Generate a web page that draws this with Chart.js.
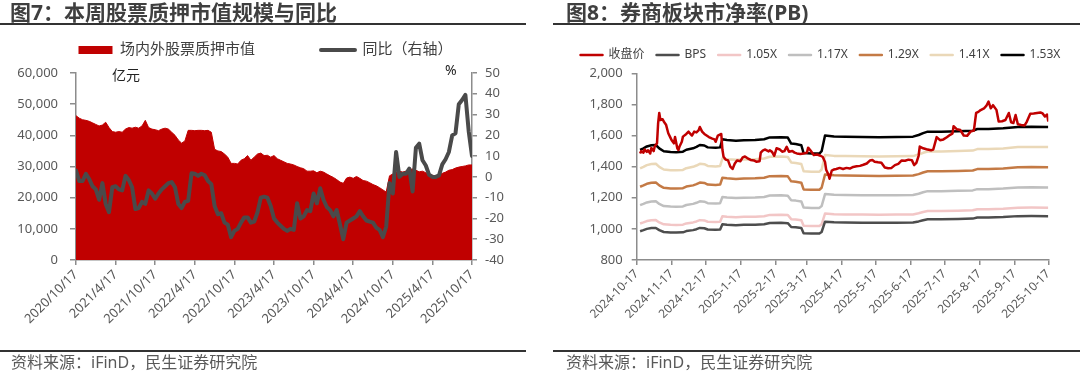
<!DOCTYPE html>
<html>
<head>
<meta charset="utf-8">
<script src="https://cdn.jsdelivr.net/npm/chart.js@4.4.1/dist/chart.umd.min.js"></script>
<style>
html,body{margin:0;padding:0;background:#fff;}
body{width:1080px;height:373px;position:relative;overflow:hidden;font-family:'Noto Sans','Noto Sans CJK SC',sans-serif;}
.box{position:absolute;top:0;width:540px;height:373px;}
.box canvas{position:absolute;left:0;top:0;}
.title{position:absolute;top:0;font-size:21px;font-weight:bold;color:#3f3f3f;line-height:24px;white-space:nowrap;}
.rule{position:absolute;height:2px;background:#333;}
.foot{position:absolute;top:353px;font-size:16px;color:#595959;line-height:18px;white-space:nowrap;}
.unit{position:absolute;font-size:14px;color:#222;line-height:16px;white-space:nowrap;}
</style>
</head>
<body>
<div class="box" style="left:0"><canvas id="c1" width="540" height="373"></canvas></div>
<div class="box" style="left:540px"><canvas id="c2" width="540" height="373"></canvas></div>

<div class="title" style="left:10px">图7：本周股票质押市值规模与同比</div>
<div class="rule" style="left:0;width:526px;top:22.5px"></div>
<div class="title" style="left:566px">图8：券商板块市净率(PB)</div>
<div class="rule" style="left:553px;width:527px;top:22.5px"></div>

<div class="unit" style="left:112px;top:67px">亿元</div>
<div class="unit" style="left:445px;top:62px">%</div>

<div class="rule" style="left:0;width:526px;top:350px"></div>
<div class="rule" style="left:553px;width:527px;top:350px"></div>
<div class="foot" style="left:11px">资料来源：iFinD，民生证券研究院</div>
<div class="foot" style="left:566px">资料来源：iFinD，民生证券研究院</div>

<script>
// ---------------- Figure 7 data (half-month steps from 2020/10/17) ----------------
const leftTickLabels = ['2020/10/17','2021/4/17','2021/10/17','2022/4/17','2022/10/17','2023/4/17','2023/10/17','2024/4/17','2024/10/17','2025/4/17','2025/10/17'];
const leftSeriesNames = ['场内外股票质押市值','同比（右轴）'];
const pledgeValue = [
46300,45500,45000,44800,44500,44000,43500,43000,43300,44200,
42500,41200,41000,41200,41000,42000,42500,42300,42600,42300,
43000,44800,42500,42000,41800,41500,42000,42300,42000,41000,
40000,38500,37500,38200,41600,41600,41500,41600,41600,41500,
41600,41000,35500,35000,34800,34000,33000,31000,31000,30800,
32000,32500,33500,32000,33000,34000,34300,33500,33600,33000,
33500,32500,32000,31500,31000,30800,30500,30000,29600,29300,
28500,28500,28600,28000,28500,28200,27600,27000,26500,25800,
25000,24600,26300,26600,26200,26800,26200,25500,25300,24800,
24200,23800,23200,22500,21800,27000,27600,28200,28500,28200,
28500,29000,29200,28800,28300,28500,28000,27500,27200,27000,
27300,27800,28200,28800,29000,29500,29800,30000,30200,30500,
30500];
const pledgeYoY = [
3,-2,-2,1.5,-1,-4.5,-6,-11,-3,-13,
-17,-5,-4.5,-6,-6.5,0.5,-1.5,-5,-15.5,-15,
-12,-13,-6.5,-8,-10.5,-8,-6,-4.5,-3,-2.5,
-5,-13,-15,-12,-11.5,1.7,1.5,0.5,1.5,0.8,
-2,-3.5,-14,-18,-17.5,-22,-23,-29,-26,-25,
-22,-19.5,-19.5,-22,-21.5,-17,-10,-9.5,-10,-14,
-20,-22,-23.5,-25,-26,-25,-25.5,-12.7,-20,-19,
-16,-16.5,-8,-12.7,-5.5,-11,-14.5,-16,-19,-16,
-23,-30,-22,-21,-20,-19,-16.5,-19,-21,-21.5,
-22,-24.5,-25.5,-29,-24,-3,-8,12,0,1.5,
1.5,4,-7,14,16,8,5.5,1,0,0,
0.7,6,8.5,12,20,21,35,37,39.5,22,
10];

// ---------------- Figure 8 data (days since 2024-10-17) ----------------
const rightTickLabels = ['2024-10-17','2024-11-17','2024-12-17','2025-1-17','2025-2-17','2025-3-17','2025-4-17','2025-5-17','2025-6-17','2025-7-17','2025-8-17','2025-9-17','2025-10-17'];
const rightSeriesNames = ['收盘价','BPS','1.05X','1.17X','1.29X','1.41X','1.53X'];
const pbMultiples = [1.05,1.17,1.29,1.41,1.53];
const closeDays = [3,4,6,7,9,10,12,13,15,16,18,19,20,21,23,24,26,28,30,31,33,34,36,37,38,40,41,44,46,47,49,51,53,55,56,58,60,62,64,67,69,70,72,75,76,77,79,81,83,85,87,89,92,94,96,98,101,104,106,109,110,112,114,117,118,120,122,124,127,129,131,133,135,138,140,142,145,148,151,152,154,157,160,163,165,167,168,170,171,173,175,177,180,183,186,189,192,195,198,201,204,207,209,211,214,217,220,223,226,229,232,235,238,241,244,246,248,250,251,254,257,261,263,266,269,272,275,278,280,281,284,287,290,293,296,299,301,303,305,308,310,312,314,316,319,321,324,327,330,332,334,336,338,341,344,346,349,352,355,358,360,362,364,365];
const closeValues = [1485,1500,1490,1510,1495,1505,1485,1520,1500,1530,1550,1680,1745,1700,1705,1690,1670,1615,1585,1570,1550,1590,1518,1507,1530,1560,1593,1610,1625,1615,1600,1625,1620,1635,1655,1625,1610,1600,1590,1580,1575,1560,1600,1610,1510,1464,1445,1440,1400,1385,1420,1440,1435,1460,1465,1455,1443,1440,1432,1435,1490,1505,1510,1498,1505,1495,1470,1518,1510,1496,1500,1528,1496,1500,1490,1485,1482,1485,1490,1522,1505,1475,1478,1470,1462,1430,1380,1350,1322,1375,1382,1385,1392,1385,1392,1388,1398,1402,1405,1412,1420,1440,1443,1432,1428,1425,1395,1390,1392,1410,1418,1440,1438,1445,1442,1410,1425,1470,1529,1518,1512,1505,1510,1590,1570,1575,1589,1605,1612,1660,1640,1635,1600,1598,1625,1632,1745,1752,1764,1775,1790,1818,1775,1795,1765,1690,1692,1700,1745,1685,1680,1732,1672,1668,1665,1690,1740,1742,1745,1748,1742,1722,1735,1690];
const bpsDays = [3,6,9,13,17,20,24,30,35,41,44,50,53,56,60,63,70,74,76,80,88,95,105,113,118,128,134,137,141,146,148,155,162,164,167,175,185,200,215,230,245,250,254,258,270,285,298,302,312,325,338,350,365];
const bpsValues = [985,992,1000,1005,1006,992,980,977,976,978,986,992,998,1006,1004,996,994,996,1030,1027,1024,1026,1027,1030,1038,1039,1037,1012,1010,1005,972,970,970,980,1046,1042,1041,1040,1039,1040,1041,1048,1056,1062,1062,1064,1066,1073,1073,1076,1082,1083,1082];

// ---------------- common ----------------
Chart.defaults.font.family = "'Noto Sans','Noto Sans CJK SC',sans-serif";
Chart.defaults.animation = false;
const axisGray = '#8c8c8c';
const labelGray = '#595959';
const fmt = v => Number(v).toLocaleString('en-US');

// ---------------- Figure 7 ----------------
const pledgePts = pledgeValue.map((v, i) => ({x: i * 0.5, y: v}));
const yoyPts = pledgeYoY.map((v, i) => ({x: i * 0.5, y: v}));

new Chart(document.getElementById('c1'), {
  type: 'line',
  data: {
    datasets: [
      {label: leftSeriesNames[1], data: yoyPts, yAxisID: 'y1', borderColor: '#4a4a4a', backgroundColor: '#4a4a4a',
       borderWidth: 4, pointRadius: 0, tension: 0, fill: false, borderJoinStyle: 'round', borderCapStyle: 'round'},
      {label: leftSeriesNames[0], data: pledgePts, yAxisID: 'y', borderColor: '#C00000', backgroundColor: '#C00000',
       borderWidth: 1, pointRadius: 0, tension: 0, fill: 'origin'}
    ]
  },
  options: {
    responsive: false,
    layout: {padding: {top: -23.5, left: -9, right: 0, bottom: 0}},
    plugins: {
      tooltip: {enabled: false},
      subtitle: {display: true, text: '', weight: 500, font: {size: 1, lineHeight: 1}, padding: {top: 0, bottom: 4.5}},
      legend: {
        display: true,
        labels: {
          font: {size: 15}, color: '#404040', boxWidth: 34, boxHeight: 0, padding: 66,
          generateLabels: () => [
            {text: leftSeriesNames[0], fillStyle: '#C00000', strokeStyle: '#C00000', lineWidth: 8, lineJoin: 'miter', fontColor: '#404040', hidden: false, datasetIndex: 1},
            {text: leftSeriesNames[1], fillStyle: '#4a4a4a', strokeStyle: '#4a4a4a', lineWidth: 4, lineJoin: 'round', fontColor: '#404040', hidden: false, datasetIndex: 0}
          ]
        }
      }
    },
    scales: {
      x: {
        type: 'linear', min: 0, max: 60,
        afterBuildTicks: s => { s.ticks = leftTickLabels.map((_, i) => ({value: i * 6})); },
        ticks: {autoSkip: false, minRotation: 45, maxRotation: 45, font: {size: 13}, color: labelGray, padding: 2,
                callback: (v, i) => leftTickLabels[i]},
        grid: {drawOnChartArea: false, drawTicks: true, tickLength: 5, color: axisGray, lineWidth: 1.5},
        border: {display: true, color: axisGray, width: 1.5},
        afterFit: s => { s.height = 113; }
      },
      y: {
        position: 'left', min: 0, max: 60000,
        ticks: {stepSize: 10000, font: {size: 13}, color: labelGray, padding: 12, callback: v => fmt(v)},
        grid: {drawOnChartArea: false, drawTicks: true, tickLength: 6, color: axisGray, lineWidth: 1.5},
        border: {display: true, color: axisGray, width: 1.5},
        afterFit: s => { s.width = 85; }
      },
      y1: {
        position: 'right', min: -40, max: 50,
        ticks: {stepSize: 10, font: {size: 13}, color: labelGray, padding: 8, callback: v => fmt(v)},
        grid: {drawOnChartArea: false, drawTicks: true, tickLength: 5, color: axisGray, lineWidth: 1.5},
        border: {display: true, color: axisGray, width: 1.5},
        afterFit: s => { s.width = 68; }
      }
    }
  }
});

// ---------------- Figure 8 ----------------
const dayOf = s => { const p = s.split('-').map(Number); return Date.UTC(p[0], p[1] - 1, p[2]); };
const day0 = dayOf(rightTickLabels[0]);
const rightTickDays = rightTickLabels.map(s => Math.round((dayOf(s) - day0) / 86400000));

const closePts = closeDays.map((d, i) => ({x: d, y: closeValues[i]}));
const bpsPts = bpsDays.map((d, i) => ({x: d, y: bpsValues[i]}));
const bandColors = ['#F2C6C6', '#BFBFBF', '#C47A45', '#EAD8B8', '#000000'];

const rightDatasets = [
  {label: rightSeriesNames[0], data: closePts, borderColor: '#C00000', backgroundColor: '#C00000'},
  {label: rightSeriesNames[1], data: bpsPts, borderColor: '#4d4d4d', backgroundColor: '#4d4d4d'}
].concat(pbMultiples.map((k, j) => ({
  label: rightSeriesNames[j + 2],
  data: bpsDays.map((d, i) => ({x: d, y: bpsValues[i] * k})),
  borderColor: bandColors[j], backgroundColor: bandColors[j]
}))).map(ds => Object.assign(ds, {borderWidth: 2.5, pointRadius: 0, tension: 0, fill: false, borderJoinStyle: 'round'}));

new Chart(document.getElementById('c2'), {
  type: 'line',
  data: {datasets: rightDatasets},
  options: {
    responsive: false,
    layout: {padding: {top: 37, left: 20.9, right: 0, bottom: 0}},
    plugins: {
      tooltip: {enabled: false},
      subtitle: {display: true, text: '', weight: 500, font: {size: 1, lineHeight: 1}, padding: {top: 0, bottom: 1.3}},
      legend: {
        display: true,
        labels: {font: {size: 12}, color: '#404040', boxWidth: 22, boxHeight: 0, padding: 12}
      }
    },
    scales: {
      x: {
        type: 'linear', min: 0, max: rightTickDays[rightTickDays.length - 1],
        afterBuildTicks: s => { s.ticks = rightTickDays.map(v => ({value: v})); },
        ticks: {autoSkip: false, minRotation: 45, maxRotation: 45, font: {size: 12}, color: labelGray, padding: 2,
                callback: (v, i) => rightTickLabels[i]},
        grid: {drawOnChartArea: false, drawTicks: true, tickLength: 5, color: axisGray, lineWidth: 1.5},
        border: {display: true, color: axisGray, width: 1.5},
        afterFit: s => { s.height = 113; }
      },
      y: {
        position: 'left', min: 800, max: 2000,
        ticks: {stepSize: 200, font: {size: 13}, color: labelGray, padding: 9, callback: v => fmt(v)},
        grid: {drawOnChartArea: false, drawTicks: true, tickLength: 5, color: axisGray, lineWidth: 1.5},
        border: {display: true, color: axisGray, width: 1.5},
        afterFit: s => { s.width = 75.8; }
      },
      yPad: {
        type: 'linear', position: 'right', display: false,
        afterFit: s => { s.width = 31.7; }
      }
    }
  }
});
</script>
</body>
</html>
